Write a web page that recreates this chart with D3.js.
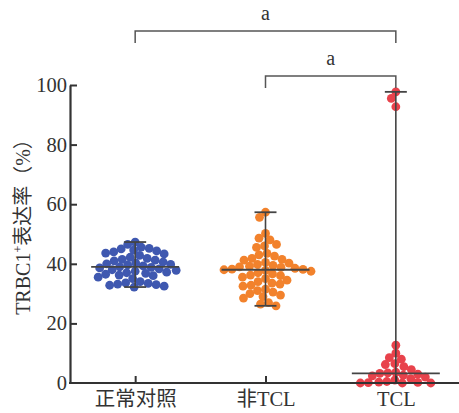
<!DOCTYPE html>
<html>
<head>
<meta charset="utf-8">
<script src="https://cdn.jsdelivr.net/npm/d3@7"></script>
<style>
  body { margin: 0; background: #fff; }
  text { font-family: "Liberation Serif", "Noto Sans CJK SC", serif; fill: #333; }
</style>
</head>
<body>
<script>
// groups and values (%)
var categories = ['正常对照', '非TCL', 'TCL'];
var colors = ['#3f58b0', '#f2822c', '#e8424b'];

var normalValues = [47.3, 46.5, 45.6, 45.2, 45.0, 44.6, 44.3, 44.0, 43.6, 43.3, 42.8, 42.2, 41.8, 41.5,
	41.2, 41.0, 40.6, 40.3, 40.0, 39.8, 39.6, 39.3, 39.0, 38.8, 38.6, 38.3, 38.0, 37.8, 37.5, 37.2,
	37.0, 36.8, 36.5, 36.2, 36.0, 35.5, 35.0, 34.0, 33.6, 33.4, 33.2, 33.0, 32.8, 32.5, 32.2];
var nonTclValues = [57.3, 55.6, 50.2, 48.6, 48.0, 46.5, 46.0, 45.5, 43.5, 43.0, 42.6, 41.8, 41.5, 41.2,
	40.5, 40.2, 39.8, 39.5, 39.2, 39.0, 38.8, 38.5, 38.2, 38.1, 38.0, 37.8, 37.5, 37.0, 36.6, 36.2,
	36.0, 35.5, 35.0, 34.5, 34.0, 33.5, 33.2, 32.8, 32.5, 31.5, 31.0, 30.5, 30.0, 29.5, 29.0, 28.5,
	27.0, 26.5, 25.9];
var tclValues = [97.7, 95.5, 92.7, 12.7, 10.0, 8.5, 8.0, 6.5, 6.2, 5.5, 4.5, 3.6, 3.4, 3.2, 3.0, 2.6,
	2.4, 2.0, 1.5, 1.0, 0.5, 0.3, 0.2, 0.1, 0.0, 0.0, 0.0];

var yTicks = [0, 20, 40, 60, 80, 100];
// significance brackets: [from, to, label]
var brackets = [['正常对照', 'TCL', 'a'], ['非TCL', 'TCL', 'a']];

var groups = [normalValues, nonTclValues, tclValues];

var width = 459, height = 413;
var svg = d3.select('body').append('svg').attr('width', width).attr('height', height);

var x = d3.scalePoint().domain(categories).range([70, 461]).padding(0.5);
var y = d3.scaleLinear().domain([0, 100]).range([383, 85]);

var r = 4.4, gap = 7.8;

// simple beeswarm: put each dot at the free offset closest to the centre
function swarm(values) {
	var placed = [];
	values.slice().sort(function (a, b) { return b - a; }).forEach(function (v) {
		var py = y(v);
		for (var k = 0; k < 400; k++) {
			var dx = (k % 2 ? -1 : 1) * Math.ceil(k / 2) * 0.5;
			var ok = placed.every(function (p) {
				var ex = p.dx - dx, ey = p.y - py;
				return ex * ex + ey * ey >= gap * gap;
			});
			if (ok) { placed.push({ v: v, y: py, dx: dx }); break; }
		}
	});
	return placed;
}

// dots
groups.forEach(function (vals, i) {
	var cx = x(categories[i]);
	svg.append('g').selectAll('circle').data(swarm(vals)).enter().append('circle')
		.attr('cx', function (d) { return cx + d.dx; })
		.attr('cy', function (d) { return d.y; })
		.attr('r', r)
		.attr('fill', colors[i]);
});

// median and range
groups.forEach(function (vals, i) {
	var cx = x(categories[i]);
	var g = svg.append('g').attr('stroke', '#444');
	var lo = d3.min(vals), hi = d3.max(vals), med = d3.median(vals);
	g.append('line').attr('x1', cx).attr('x2', cx).attr('y1', y(lo)).attr('y2', y(hi)).attr('stroke-width', 1.6);
	[lo, hi].forEach(function (v) {
		g.append('line').attr('x1', cx - 11).attr('x2', cx + 11).attr('y1', y(v)).attr('y2', y(v)).attr('stroke-width', 1.8);
	});
	g.append('line').attr('x1', cx - 44).attr('x2', cx + 44).attr('y1', y(med)).attr('y2', y(med)).attr('stroke-width', 1.8);
});

// axes
var yAxis = svg.append('g').attr('transform', 'translate(70,0)')
	.call(d3.axisLeft(y).tickValues(yTicks).tickSizeInner(-7).tickSizeOuter(0).tickPadding(4));
var xAxis = svg.append('g').attr('transform', 'translate(0,383)')
	.call(d3.axisBottom(x).tickSizeInner(-7).tickSizeOuter(0).tickPadding(16));
xAxis.select('.domain').attr('d', 'M69,0H459');
[yAxis, xAxis].forEach(function (a) {
	a.selectAll('.domain').attr('stroke', '#333').attr('stroke-width', 2.2);
	a.selectAll('.tick line').attr('stroke', '#333').attr('stroke-width', 2);
	a.selectAll('.tick text').attr('font-size', 20.5).attr('fill', '#333')
		.style('font-family', '"Liberation Serif", "Noto Sans CJK SC", serif');
});
xAxis.selectAll('.tick text').attr('dy', '0.71em').attr('y', 8);
yAxis.selectAll('.tick text').attr('x', -3);
yAxis.select('.tick:first-of-type line').remove();

// y label
var yl = svg.append('text').attr('transform', 'translate(30,' + (y(50) - 12) + ') rotate(-90)')
	.attr('text-anchor', 'middle').attr('font-size', 20);
yl.append('tspan').text('TRBC1');
yl.append('tspan').text('+').attr('font-size', 12).attr('dy', -8);
yl.append('tspan').text('表达率（%）').attr('dy', 8);

// brackets
var bTop = [31, 76];
brackets.forEach(function (b, i) {
	var x1 = x(b[0]), x2 = x(b[1]), by = bTop[i];
	svg.append('path')
		.attr('d', 'M' + x1 + ',' + (by + 12) + 'V' + by + 'H' + x2 + 'V' + (by + 12))
		.attr('fill', 'none').attr('stroke', '#555').attr('stroke-width', 1.5);
	svg.append('text').attr('x', (x1 + x2) / 2).attr('y', by - 11)
		.attr('text-anchor', 'middle').attr('font-size', 20).text(b[2]);
});
</script>
</body>
</html>
